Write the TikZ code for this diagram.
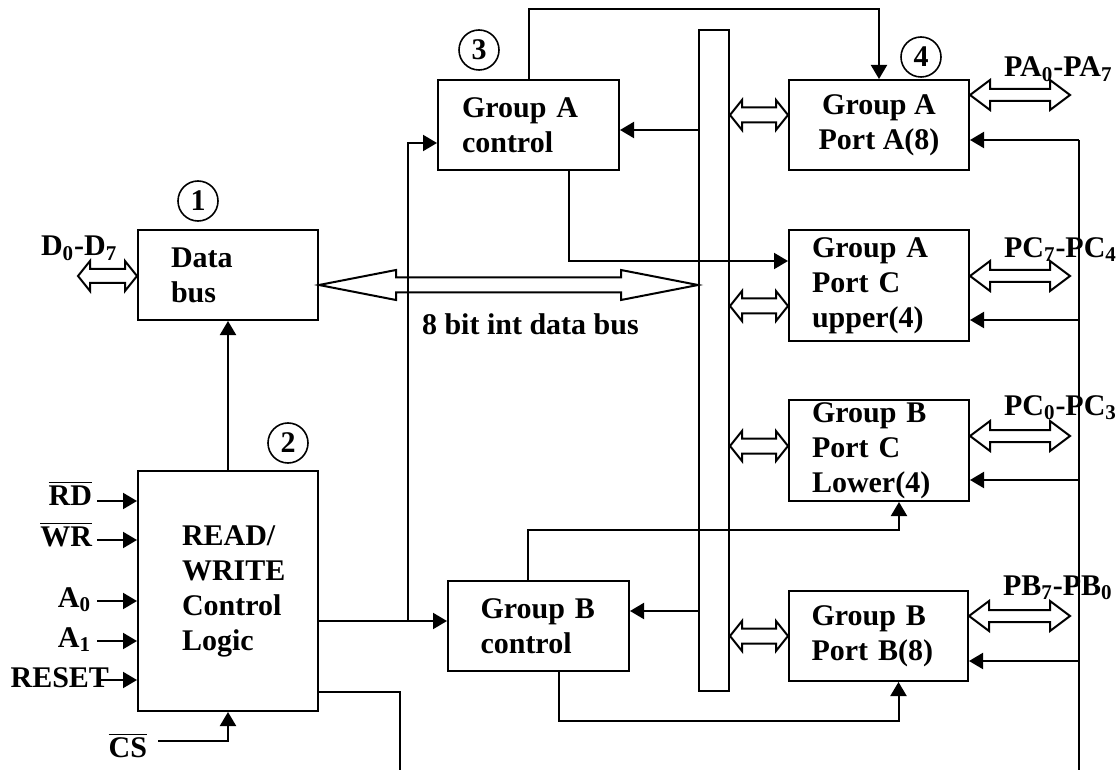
\documentclass[tikz,border=0pt]{standalone}
\usepackage{fontspec}
\setmainfont{Liberation Serif}
\usetikzlibrary{arrows.meta, calc}

\newcommand{\sigbar}[1]{$\overline{\mbox{#1}}$}
% hollow double headed bus arrow: left end, right end, head length, head half width, shaft half width
\newcommand{\dualarrow}[5]{%
    \draw[fill=white] let \p1=#1, \p2=#2 in
        (\x1,\y1) -- (\x1+#3,\y1+#4) -- (\x1+#3,\y1+#5) -- (\x2-#3,\y1+#5)
        -- (\x2-#3,\y1+#4) -- (\x2,\y1) -- (\x2-#3,\y1-#4) -- (\x2-#3,\y1-#5)
        -- (\x1+#3,\y1-#5) -- (\x1+#3,\y1-#4) -- cycle;}

\tikzset{
    block/.style={draw, line width=1pt, inner sep=0pt, align=left},
    num/.style={draw, circle, line width=0.8pt, minimum size=20pt, inner sep=0pt},
    siglabel/.style={inner sep=0pt}
}

\begin{document}
\begin{tikzpicture}[x=0.5pt, y=-0.5pt, line width=1pt,
    >={Triangle[length=7pt,width=8pt]},
    every node/.style={font=\fontsize{15}{17.5}\selectfont\bfseries}]

\useasboundingbox (0,0) rectangle (1119,770);

% Bloques
\node[block, minimum width=90pt, minimum height=45pt, text width=57pt] (db) at (228,275) {Data\\bus};
\node[block, minimum width=90pt, minimum height=120pt, text width=46pt] (rw) at (228,591) {READ/\\WRITE\\Control\\Logic};
\node[block, minimum width=90.5pt, minimum height=45pt, text width=66.5pt] (gac) at (528.5,125) {Group A\\control};
\node[block, minimum width=90.5pt, minimum height=45pt, text width=58pt] (gbc) at (538.5,626) {Group B\\control};
\node[block, minimum width=90pt, minimum height=45pt, align=center] (pa) at (879,125) {Group A\\Port A(8)};
\node[block, minimum width=90pt, minimum height=55.5pt, text width=67pt] (pcu) at (879,285.5) {Group A\\Port C\\upper(4)};
\node[block, minimum width=90pt, minimum height=50.5pt, text width=67pt] (pcl) at (879,450.5) {Group B\\Port C\\Lower(4)};
\node[block, minimum width=89.5pt, minimum height=45pt, text width=67pt] (pb) at (878.5,636) {Group B\\Port B(8)};
\node[draw, minimum width=15pt, minimum height=330.5pt] (bus) at (714,360.5) {};

% Números
\node[num] (n1) at (198,201) {1};
\node[num] (n2) at (288,443) {2};
\node[num] (n3) at (479,50) {3};
\node[num] (n4) at (921,57) {4};

% Flechas dobles de los buses (antes de las líneas)
\coordinate (dfree) at (78,276);
\dualarrow{(dfree)}{(db.west |- dfree)}{6pt}{7.5pt}{3.5pt}
\dualarrow{(db.east |- 0,285)}{(bus.west |- 0,285)}{38.5pt}{7.5pt}{3.75pt}
\foreach \blk/\yy in {pa/115, pcu/306, pcl/446, pb/636} {
    \dualarrow{(bus.east |- 0,\yy)}{(\blk.west |- 0,\yy)}{6pt}{7.5pt}{3.75pt}
}
\foreach \blk/\yy in {pa/95, pcu/276, pcl/436, pb/616} {
    \dualarrow{(\blk.east |- 0,\yy)}{(1070,\yy)}{10pt}{7.5pt}{3pt}
}

% Señales de entrada
\foreach \nm/\yy/\by/\xe/\txt in {rd/501/505/93/\sigbar{RD}, wr/540/546/93/\sigbar{WR},
        a0/601/607/92/A\textsubscript{0}, a1/641/647/92/A\textsubscript{1}, reset/680/687/110/RESET} {
    \node[siglabel, anchor=base east] (\nm) at (\xe,\by) {\txt};
    \draw[->] (97,\yy) -- (rw.west |- 0,\yy);
}
\node[siglabel, anchor=base east] (cs) at (148,757) {\sigbar{CS}};
\coordinate (csin) at (158,741);
\draw[->] (csin) -| (rw.south);

\draw[->] (rw.north) -- (db.south);

% Control de grupos
\coordinate (split) at (408,621);
\draw (rw.east |- split) -- (split);
\draw[->] (split) -- (split -| gbc.west);
\draw[->] (split) |- ([yshift=-9pt]gac.west);

\draw[->] (gac.north) -- ++(0,-70) -| (pa.north);
\draw[->] ([xshift=20pt]gac.south) |- ([yshift=12.25pt]pcu.west);
\draw[->] (bus.west |- 0,130) -- (gac.east |- 0,130);
\draw[->] (bus.west |- 0,611) -- (gbc.east |- 0,611);
\draw[->] ([xshift=-5.25pt]gbc.north) -- ++(0,-50) -| ([xshift=10pt]pcl.south);
\draw[->] ([xshift=10.25pt]gbc.south) -- ++(0,49) -| ([xshift=10pt]pb.south);

\draw ([yshift=10pt]rw.south east) -- ++(81,0) -- ++(0,79);

% Línea de la derecha
\coordinate (rtop) at (1079,140);
\coordinate (rbot) at (1079,770);
\draw (rbot) -- (rtop);
\draw[->] (rtop) -- (pa.east |- rtop);
\foreach \blk/\yy in {pcu/320, pcl/480, pb/661}
    \draw[->] (1079,\yy) -- (\blk.east |- 0,\yy);

% Etiquetas
\node[siglabel, anchor=base west] (dlbl) at (40,256) {D\textsubscript{0}-D\textsubscript{7}};
\node[siglabel, anchor=base west] (buslbl) at (421,335) {8 bit int data bus};
\node[siglabel, anchor=base west] (palbl) at (1003,77) {PA\textsubscript{0}-PA\textsubscript{7}};
\node[siglabel, anchor=base west] (pculbl) at (1003,257) {PC\textsubscript{7}-PC\textsubscript{4}};
\node[siglabel, anchor=base west] (pcllbl) at (1003,415) {PC\textsubscript{0}-PC\textsubscript{3}};
\node[siglabel, anchor=base west] (pblbl) at (1002,595) {PB\textsubscript{7}-PB\textsubscript{0}};

\end{tikzpicture}
\end{document}
